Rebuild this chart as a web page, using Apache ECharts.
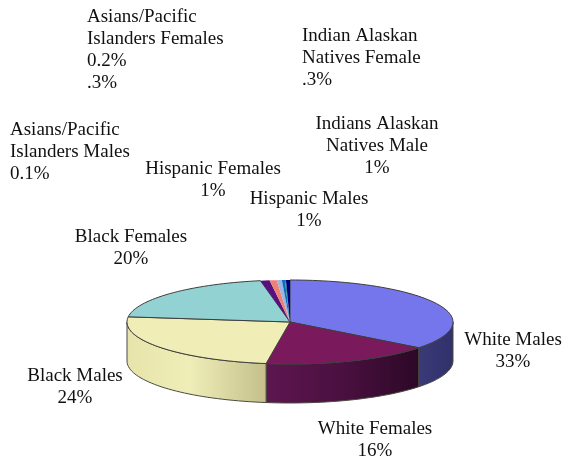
<!DOCTYPE html>
<html><head><meta charset="utf-8">
<style>html,body{margin:0;padding:0;background:#fff}#c{width:563px;height:460px}</style>
<script src="https://cdn.jsdelivr.net/npm/echarts@6/dist/echarts.min.js"></script>
</head><body><div id="c"></div>
<script>
// Data
const categories = ['White Males','White Females','Black Males','Black Females','Hispanic Males','Hispanic Females','Indians Alaskan Natives Male','Indian Alaskan Natives Female','Asians/Pacific Islanders Males','Asians/Pacific Islanders Females'];
const values = [33,16,24,20,0.9,0.7,0.5,0.3,0.1,0.4];
const labelTexts = [
 'White Males\n33%','White Females\n16%','Black Males\n24%','Black Females\n20%',
 'Hispanic Males\n1%','Hispanic Females\n1%','Indians Alaskan\nNatives Male\n1%',
 'Indian Alaskan\nNatives Female\n.3%','Asians/Pacific\nIslanders Males\n0.1%','Asians/Pacific\nIslanders Females\n0.2%\n.3%'];

// Styles and layout (separate from the data)
const topColors = ['#7676ec','#7a1a5c','#f0eeb6','#92d2d2','#58107e','#f08072','#9fb4e0','#0a70b8','#1a8a9a','#00007c'];
const wallFills = [
 [['#3a3a78',0],['#30306a',1]],
 [['#5e1650',0],['#4a1040',.5],['#2c0826',1]],
 [['#e6e4aa',0],['#f0eeb8',.45],['#c4bf8c',1]],
 null,null,null,null,null,null,null];
const labelLayout = [
 [513,351,'center'],[375,440,'center'],[75,387,'center'],[131,248,'center'],
 [309,210,'center'],[213,180,'center'],[377,146,'center'],
 [302,58,'left'],[10,152,'left'],[87,50,'left']];
const pie = {cx:290,cy:322,rx:163,ry:42,depth:39,perspectiveDeg:4.5};

const total = values.reduce((a,b)=>a+b,0);
function warp(a){ return a + pie.perspectiveDeg*Math.sin(a/2*Math.PI/180); }
const angles=[0];
values.forEach(v=>angles.push(angles[angles.length-1]+v/total*360));
function pt(a,dz){ const r=a*Math.PI/180; return [pie.cx+pie.rx*Math.sin(r), pie.cy-pie.ry*Math.cos(r)+(dz||0)]; }
function arc(a0,a1,dz){ const n=Math.max(2,Math.ceil((a1-a0)/2)),p=[]; for(let i=0;i<=n;i++) p.push(pt(a0+(a1-a0)*i/n,dz)); return p; }

function renderItem(params,api){
  const i=params.dataIndex;
  const a0=warp(angles[i]), a1=warp(angles[i+1]);
  const children=[];
  const w0=Math.max(a0,90), w1=Math.min(a1,270);
  if(w1>w0 && wallFills[i]){
    const pts=arc(w0,w1,0).concat(arc(w0,w1,pie.depth).reverse());
    children.push({type:'polygon',shape:{points:pts},style:{
      fill:{type:'linear',x:0,y:0,x2:1,y2:0,colorStops:wallFills[i].map(s=>({color:s[0],offset:s[1]}))},
      stroke:'#4a4a42',lineWidth:1}});
  }
  const small=values[i]<2;
  children.push({type:'polygon',shape:{points:[[pie.cx,pie.cy]].concat(arc(a0,a1,0))},
    style:{fill:topColors[i],stroke:small?null:'#3e3e3c',lineWidth:1}});
  return {type:'group',children};
}

const chart=echarts.init(document.getElementById('c'),null,{renderer:'canvas'});
chart.setOption({
  backgroundColor:'#fff',animation:false,
  series:[{type:'custom',coordinateSystem:'none',silent:true,renderItem,
    data:categories.map((c,i)=>({name:c,value:[values[i]]}))}],
  graphic:labelTexts.map((t,i)=>({type:'text',x:labelLayout[i][0],y:labelLayout[i][1],
    style:{text:t,align:labelLayout[i][2],verticalAlign:'middle',
      font:'19px "Liberation Serif", serif',lineHeight:22,fill:'#111'}}))
});
</script></body></html>
